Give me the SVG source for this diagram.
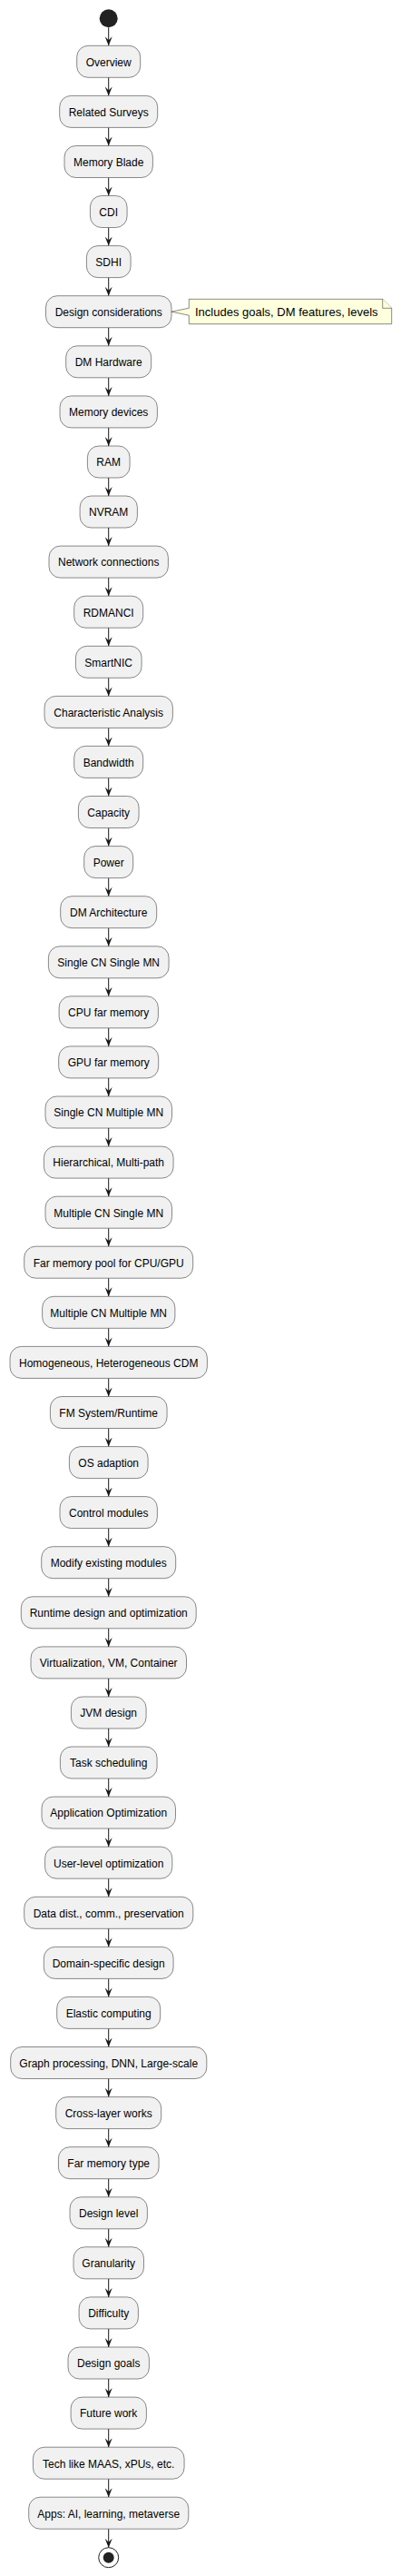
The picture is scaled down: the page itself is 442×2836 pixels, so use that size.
<svg xmlns="http://www.w3.org/2000/svg" width="442" height="2836" viewBox="0 0 442 2836">
<style>
.n rect{fill:#F1F1F1;stroke:#181818;stroke-width:0.5}
.n text{font-family:"Liberation Sans",Arial,sans-serif;font-size:12px;fill:#000;text-anchor:middle}
.c line{stroke:#181818;stroke-width:1}
.note path{fill:#FEFFDD;stroke:#181818;stroke-width:0.5}
.note text{font-family:"Liberation Sans",Arial,sans-serif;font-size:13px;fill:#000}
</style>
<defs>
<marker id="ah" viewBox="0 0 10 8" refX="10" refY="4" markerWidth="10" markerHeight="8" markerUnits="userSpaceOnUse" orient="auto">
<path d="M0,0 L10,4 L0,8 L4,4 Z" fill="#181818"/>
</marker>
</defs>
<rect width="442" height="2836" fill="#FFFFFF"/>
<g id="start"><circle cx="119.7" cy="20.3" r="10" fill="#222222"/></g>
<g id="connectors" class="c">
<line x1="119.7" y1="30.3" x2="119.7" y2="50.3" marker-end="url(#ah)"/>
<line x1="119.7" y1="85.3" x2="119.7" y2="105.4" marker-end="url(#ah)"/>
<line x1="119.7" y1="140.4" x2="119.7" y2="160.5" marker-end="url(#ah)"/>
<line x1="119.7" y1="195.5" x2="119.7" y2="215.5" marker-end="url(#ah)"/>
<line x1="119.7" y1="250.5" x2="119.7" y2="270.6" marker-end="url(#ah)"/>
<line x1="119.7" y1="305.6" x2="119.7" y2="325.7" marker-end="url(#ah)"/>
<line x1="119.7" y1="360.7" x2="119.7" y2="380.8" marker-end="url(#ah)"/>
<line x1="119.7" y1="415.8" x2="119.7" y2="435.9" marker-end="url(#ah)"/>
<line x1="119.7" y1="470.9" x2="119.7" y2="491.0" marker-end="url(#ah)"/>
<line x1="119.7" y1="526.0" x2="119.7" y2="546.0" marker-end="url(#ah)"/>
<line x1="119.7" y1="581.0" x2="119.7" y2="601.1" marker-end="url(#ah)"/>
<line x1="119.7" y1="636.1" x2="119.7" y2="656.2" marker-end="url(#ah)"/>
<line x1="119.7" y1="691.2" x2="119.7" y2="711.3" marker-end="url(#ah)"/>
<line x1="119.7" y1="746.3" x2="119.7" y2="766.4" marker-end="url(#ah)"/>
<line x1="119.7" y1="801.4" x2="119.7" y2="821.4" marker-end="url(#ah)"/>
<line x1="119.7" y1="856.4" x2="119.7" y2="876.5" marker-end="url(#ah)"/>
<line x1="119.7" y1="911.5" x2="119.7" y2="931.6" marker-end="url(#ah)"/>
<line x1="119.7" y1="966.6" x2="119.7" y2="986.7" marker-end="url(#ah)"/>
<line x1="119.7" y1="1021.7" x2="119.7" y2="1041.8" marker-end="url(#ah)"/>
<line x1="119.7" y1="1076.8" x2="119.7" y2="1096.8" marker-end="url(#ah)"/>
<line x1="119.7" y1="1131.8" x2="119.7" y2="1151.9" marker-end="url(#ah)"/>
<line x1="119.7" y1="1186.9" x2="119.7" y2="1207.0" marker-end="url(#ah)"/>
<line x1="119.7" y1="1242.0" x2="119.7" y2="1262.1" marker-end="url(#ah)"/>
<line x1="119.7" y1="1297.1" x2="119.7" y2="1317.2" marker-end="url(#ah)"/>
<line x1="119.7" y1="1352.2" x2="119.7" y2="1372.2" marker-end="url(#ah)"/>
<line x1="119.7" y1="1407.2" x2="119.7" y2="1427.3" marker-end="url(#ah)"/>
<line x1="119.7" y1="1462.3" x2="119.7" y2="1482.4" marker-end="url(#ah)"/>
<line x1="119.7" y1="1517.4" x2="119.7" y2="1537.5" marker-end="url(#ah)"/>
<line x1="119.7" y1="1572.5" x2="119.7" y2="1592.6" marker-end="url(#ah)"/>
<line x1="119.7" y1="1627.6" x2="119.7" y2="1647.6" marker-end="url(#ah)"/>
<line x1="119.7" y1="1682.6" x2="119.7" y2="1702.7" marker-end="url(#ah)"/>
<line x1="119.7" y1="1737.7" x2="119.7" y2="1757.8" marker-end="url(#ah)"/>
<line x1="119.7" y1="1792.8" x2="119.7" y2="1812.9" marker-end="url(#ah)"/>
<line x1="119.7" y1="1847.9" x2="119.7" y2="1868.0" marker-end="url(#ah)"/>
<line x1="119.7" y1="1903.0" x2="119.7" y2="1923.0" marker-end="url(#ah)"/>
<line x1="119.7" y1="1958.0" x2="119.7" y2="1978.1" marker-end="url(#ah)"/>
<line x1="119.7" y1="2013.1" x2="119.7" y2="2033.2" marker-end="url(#ah)"/>
<line x1="119.7" y1="2068.2" x2="119.7" y2="2088.3" marker-end="url(#ah)"/>
<line x1="119.7" y1="2123.3" x2="119.7" y2="2143.4" marker-end="url(#ah)"/>
<line x1="119.7" y1="2178.4" x2="119.7" y2="2198.4" marker-end="url(#ah)"/>
<line x1="119.7" y1="2233.4" x2="119.7" y2="2253.5" marker-end="url(#ah)"/>
<line x1="119.7" y1="2288.5" x2="119.7" y2="2308.6" marker-end="url(#ah)"/>
<line x1="119.7" y1="2343.6" x2="119.7" y2="2363.7" marker-end="url(#ah)"/>
<line x1="119.7" y1="2398.7" x2="119.7" y2="2418.8" marker-end="url(#ah)"/>
<line x1="119.7" y1="2453.8" x2="119.7" y2="2473.8" marker-end="url(#ah)"/>
<line x1="119.7" y1="2508.8" x2="119.7" y2="2528.9" marker-end="url(#ah)"/>
<line x1="119.7" y1="2563.9" x2="119.7" y2="2584.0" marker-end="url(#ah)"/>
<line x1="119.7" y1="2619.0" x2="119.7" y2="2639.1" marker-end="url(#ah)"/>
<line x1="119.7" y1="2674.1" x2="119.7" y2="2694.2" marker-end="url(#ah)"/>
<line x1="119.7" y1="2729.2" x2="119.7" y2="2749.2" marker-end="url(#ah)"/>
<line x1="119.7" y1="2784.2" x2="119.7" y2="2804.7" marker-end="url(#ah)"/>
</g>
<g id="n1" class="n"><rect x="84.7" y="50.3" width="70.0" height="35" rx="12.5"/><text x="119.7" y="72.6">Overview</text></g>
<g id="n2" class="n"><rect x="65.7" y="105.4" width="108.0" height="35" rx="12.5"/><text x="119.7" y="127.7">Related Surveys</text></g>
<g id="n3" class="n"><rect x="71.0" y="160.5" width="97.4" height="35" rx="12.5"/><text x="119.7" y="182.8">Memory Blade</text></g>
<g id="n4" class="n"><rect x="99.4" y="215.5" width="40.7" height="35" rx="12.5"/><text x="119.7" y="237.8">CDI</text></g>
<g id="n5" class="n"><rect x="95.4" y="270.6" width="48.7" height="35" rx="12.5"/><text x="119.7" y="292.9">SDHI</text></g>
<g id="n6" class="n"><rect x="50.5" y="325.7" width="138.5" height="35" rx="12.5"/><text x="119.7" y="348.0">Design considerations</text></g>
<g id="note1" class="note"><path d="M208.3,329.3 L208.3,339.2 L189,343.2 L208.3,347.2 L208.3,356.7 L431.7,356.7 L431.7,339.3 L421.7,329.3 Z"/><path d="M421.7,329.3 L421.7,339.3 L431.7,339.3" fill="none"/><text x="215" y="347.8">Includes goals, DM features, levels</text></g>
<g id="n7" class="n"><rect x="72.7" y="380.8" width="94.0" height="35" rx="12.5"/><text x="119.7" y="403.1">DM Hardware</text></g>
<g id="n8" class="n"><rect x="66.0" y="435.9" width="107.4" height="35" rx="12.5"/><text x="119.7" y="458.2">Memory devices</text></g>
<g id="n9" class="n"><rect x="96.4" y="491.0" width="46.7" height="35" rx="12.5"/><text x="119.7" y="513.3">RAM</text></g>
<g id="n10" class="n"><rect x="88.1" y="546.0" width="63.3" height="35" rx="12.5"/><text x="119.7" y="568.3">NVRAM</text></g>
<g id="n11" class="n"><rect x="54.0" y="601.1" width="131.4" height="35" rx="12.5"/><text x="119.7" y="623.4">Network connections</text></g>
<g id="n12" class="n"><rect x="81.7" y="656.2" width="76.0" height="35" rx="12.5"/><text x="119.7" y="678.5">RDMANCI</text></g>
<g id="n13" class="n"><rect x="83.4" y="711.3" width="72.7" height="35" rx="12.5"/><text x="119.7" y="733.6">SmartNIC</text></g>
<g id="n14" class="n"><rect x="49.0" y="766.4" width="141.4" height="35" rx="12.5"/><text x="119.7" y="788.7">Characteristic Analysis</text></g>
<g id="n15" class="n"><rect x="81.7" y="821.4" width="76.0" height="35" rx="12.5"/><text x="119.7" y="843.7">Bandwidth</text></g>
<g id="n16" class="n"><rect x="86.4" y="876.5" width="66.7" height="35" rx="12.5"/><text x="119.7" y="898.8">Capacity</text></g>
<g id="n17" class="n"><rect x="92.7" y="931.6" width="54.0" height="35" rx="12.5"/><text x="119.7" y="953.9">Power</text></g>
<g id="n18" class="n"><rect x="66.7" y="986.7" width="106.0" height="35" rx="12.5"/><text x="119.7" y="1009.0">DM Architecture</text></g>
<g id="n19" class="n"><rect x="53.4" y="1041.8" width="132.7" height="35" rx="12.5"/><text x="119.7" y="1064.1">Single CN Single MN</text></g>
<g id="n20" class="n"><rect x="65.1" y="1096.8" width="109.3" height="35" rx="12.5"/><text x="119.7" y="1119.1">CPU far memory</text></g>
<g id="n21" class="n"><rect x="64.7" y="1151.9" width="110.0" height="35" rx="12.5"/><text x="119.7" y="1174.2">GPU far memory</text></g>
<g id="n22" class="n"><rect x="50.0" y="1207.0" width="139.5" height="35" rx="12.5"/><text x="119.7" y="1229.3">Single CN Multiple MN</text></g>
<g id="n23" class="n"><rect x="48.4" y="1262.1" width="142.7" height="35" rx="12.5"/><text x="119.7" y="1284.4">Hierarchical, Multi-path</text></g>
<g id="n24" class="n"><rect x="50.0" y="1317.2" width="139.5" height="35" rx="12.5"/><text x="119.7" y="1339.5">Multiple CN Single MN</text></g>
<g id="n25" class="n"><rect x="26.7" y="1372.2" width="186.0" height="35" rx="12.5"/><text x="119.7" y="1394.5">Far memory pool for CPU/GPU</text></g>
<g id="n26" class="n"><rect x="46.6" y="1427.3" width="146.3" height="35" rx="12.5"/><text x="119.7" y="1449.6">Multiple CN Multiple MN</text></g>
<g id="n27" class="n"><rect x="11.0" y="1482.4" width="217.4" height="35" rx="12.5"/><text x="119.7" y="1504.7">Homogeneous, Heterogeneous CDM</text></g>
<g id="n28" class="n"><rect x="55.4" y="1537.5" width="128.7" height="35" rx="12.5"/><text x="119.7" y="1559.8">FM System/Runtime</text></g>
<g id="n29" class="n"><rect x="76.4" y="1592.6" width="86.7" height="35" rx="12.5"/><text x="119.7" y="1614.9">OS adaption</text></g>
<g id="n30" class="n"><rect x="66.0" y="1647.6" width="107.4" height="35" rx="12.5"/><text x="119.7" y="1669.9">Control modules</text></g>
<g id="n31" class="n"><rect x="45.7" y="1702.7" width="148.0" height="35" rx="12.5"/><text x="119.7" y="1725.0">Modify existing modules</text></g>
<g id="n32" class="n"><rect x="23.3" y="1757.8" width="192.9" height="35" rx="12.5"/><text x="119.7" y="1780.1">Runtime design and optimization</text></g>
<g id="n33" class="n"><rect x="34.0" y="1812.9" width="171.5" height="35" rx="12.5"/><text x="119.7" y="1835.2">Virtualization, VM, Container</text></g>
<g id="n34" class="n"><rect x="78.4" y="1868.0" width="82.7" height="35" rx="12.5"/><text x="119.7" y="1890.3">JVM design</text></g>
<g id="n35" class="n"><rect x="66.4" y="1923.0" width="106.7" height="35" rx="12.5"/><text x="119.7" y="1945.3">Task scheduling</text></g>
<g id="n36" class="n"><rect x="46.0" y="1978.1" width="147.5" height="35" rx="12.5"/><text x="119.7" y="2000.4">Application Optimization</text></g>
<g id="n37" class="n"><rect x="49.6" y="2033.2" width="140.2" height="35" rx="12.5"/><text x="119.7" y="2055.5">User-level optimization</text></g>
<g id="n38" class="n"><rect x="26.7" y="2088.3" width="186.1" height="35" rx="12.5"/><text x="119.7" y="2110.6">Data dist., comm., preservation</text></g>
<g id="n39" class="n"><rect x="48.3" y="2143.4" width="142.8" height="35" rx="12.5"/><text x="119.7" y="2165.7">Domain-specific design</text></g>
<g id="n40" class="n"><rect x="62.7" y="2198.4" width="114.0" height="35" rx="12.5"/><text x="119.7" y="2220.7">Elastic computing</text></g>
<g id="n41" class="n"><rect x="11.7" y="2253.5" width="216.1" height="35" rx="12.5"/><text x="119.7" y="2275.8">Graph processing, DNN, Large-scale</text></g>
<g id="n42" class="n"><rect x="61.7" y="2308.6" width="116.0" height="35" rx="12.5"/><text x="119.7" y="2330.9">Cross-layer works</text></g>
<g id="n43" class="n"><rect x="64.4" y="2363.7" width="110.7" height="35" rx="12.5"/><text x="119.7" y="2386.0">Far memory type</text></g>
<g id="n44" class="n"><rect x="77.0" y="2418.8" width="85.4" height="35" rx="12.5"/><text x="119.7" y="2441.1">Design level</text></g>
<g id="n45" class="n"><rect x="81.0" y="2473.8" width="77.5" height="35" rx="12.5"/><text x="119.7" y="2496.1">Granularity</text></g>
<g id="n46" class="n"><rect x="87.1" y="2528.9" width="65.3" height="35" rx="12.5"/><text x="119.7" y="2551.2">Difficulty</text></g>
<g id="n47" class="n"><rect x="75.0" y="2584.0" width="89.4" height="35" rx="12.5"/><text x="119.7" y="2606.3">Design goals</text></g>
<g id="n48" class="n"><rect x="78.1" y="2639.1" width="83.3" height="35" rx="12.5"/><text x="119.7" y="2661.4">Future work</text></g>
<g id="n49" class="n"><rect x="36.4" y="2694.2" width="166.7" height="35" rx="12.5"/><text x="119.7" y="2716.5">Tech like MAAS, xPUs, etc.</text></g>
<g id="n50" class="n"><rect x="31.7" y="2749.2" width="176.1" height="35" rx="12.5"/><text x="119.7" y="2771.5">Apps: AI, learning, metaverse</text></g>
<g id="end"><circle cx="119.7" cy="2815.7" r="11" fill="none" stroke="#222222" stroke-width="1"/><circle cx="119.7" cy="2815.7" r="6" fill="#222222"/></g>
</svg>
